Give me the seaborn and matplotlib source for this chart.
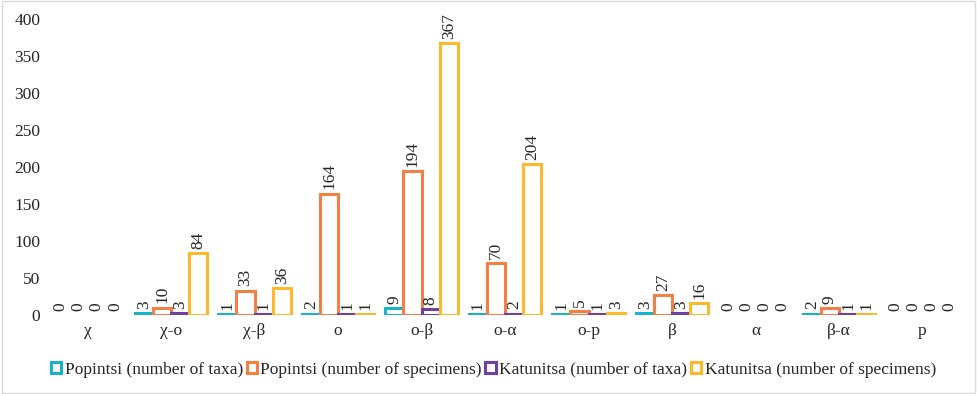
import numpy as np
import pandas as pd
import matplotlib.pyplot as plt
import seaborn as sns
from matplotlib.patches import Rectangle

zones = ["χ", "χ-ο", "χ-β", "ο", "ο-β", "ο-α", "ο-p", "β", "α", "β-α", "p"]
popintsi_taxa = [0, 3, 1, 2, 9, 1, 1, 3, 0, 2, 0]
popintsi_specimens = [0, 10, 33, 164, 194, 70, 5, 27, 0, 9, 0]
katunitsa_taxa = [0, 3, 1, 1, 8, 2, 1, 3, 0, 1, 0]
katunitsa_specimens = [0, 84, 36, 1, 367, 204, 3, 16, 0, 1, 0]

series_names = ["Popintsi (number of taxa)", "Popintsi (number of specimens)",
                "Katunitsa (number of taxa)", "Katunitsa (number of specimens)"]
colors = ["#17B3C9", "#F47F45", "#7040A0", "#FDB92C"]


def main():
    rows = []
    for name, vals in zip(series_names, [popintsi_taxa, popintsi_specimens,
                                         katunitsa_taxa, katunitsa_specimens]):
        for z, v in zip(zones, vals):
            rows.append({"zone": z, "series": name, "value": v})
    df = pd.DataFrame(rows)

    sns.set_style("white")
    plt.rcParams['font.family'] = ['Liberation Serif', 'DejaVu Serif']
    fs = 12.5

    fig = plt.figure(figsize=(9.77, 3.94), dpi=100)
    ax = fig.add_axes([0.047, 0.2005, 0.94, 0.7515])
    sns.barplot(data=df, x="zone", y="value", hue="series", order=zones,
                hue_order=series_names, palette=colors, fill=False,
                width=0.87, linewidth=2.2, ax=ax, errorbar=None)

    for cont in ax.containers:
        for bar in cont:
            if bar.get_height() == 0:
                bar.set_visible(False)
        ax.bar_label(cont, labels=[f"{int(b.get_height())}" for b in cont],
                     rotation=90, padding=3, fontsize=fs)

    ax.set_ylim(0, 400)
    ax.set_yticks(range(0, 401, 50))
    ax.set_xlim(-0.5, len(zones) - 0.5)
    ax.set_xlabel("")
    ax.set_ylabel("")
    ax.tick_params(axis="both", length=0, labelsize=fs)
    ax.tick_params(axis="x", pad=6)
    ax.tick_params(axis="y", pad=4)
    for s in ax.spines.values():
        s.set_visible(False)

    handles, labels = ax.get_legend_handles_labels()
    ax.legend_.remove()
    fig.legend(handles, labels, loc="center", bbox_to_anchor=(0.505, 0.062),
               ncol=4, frameon=False, fontsize=fs, handlelength=0.6,
               handleheight=0.6, handletextpad=0.2, columnspacing=0.2)

    fig.patches.append(Rectangle((0.002, 0.003), 0.996, 0.994, transform=fig.transFigure,
                                 fill=False, edgecolor="#D9D9D9", linewidth=1))
    fig.savefig("out.png", dpi=100)


if __name__ == "__main__":
    main()
